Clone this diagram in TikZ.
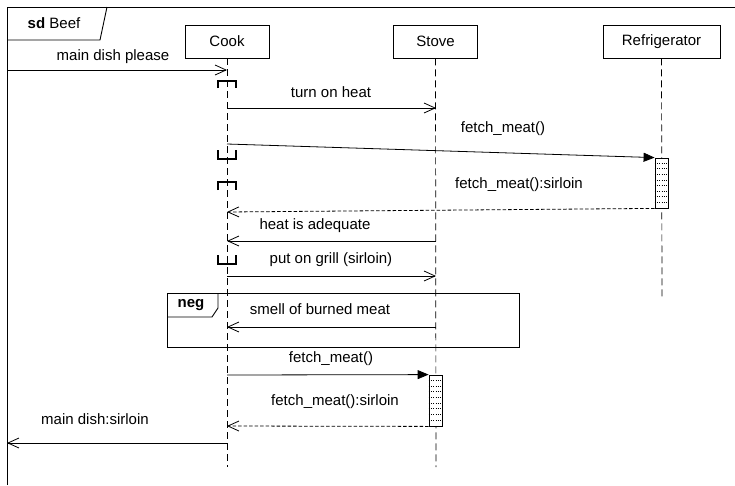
\documentclass[tikz,border=0pt]{standalone}
\usepackage{fontspec}
\setmainfont{Liberation Sans}
\usetikzlibrary{arrows.meta,calc}
\begin{document}
\begin{tikzpicture}[x=1pt,y=-1pt,
  font=\fontsize{15}{18}\selectfont,
  head/.style={draw, line width=0.7pt, minimum height=33pt, inner sep=0pt},
  lifeline/.style={line width=0.7pt, dash pattern=on 7pt off 4pt},
  msg/.style={line width=0.8pt, draw=black, -{Straight Barb[length=11pt,width=10pt,line width=0.8pt]}},
  call/.style={line width=0.8pt, draw=black, -{Triangle[length=11pt,width=9pt]}},
  reply/.style={msg, dash pattern=on 3.5pt off 2pt},
  lbl/.style={inner sep=0pt},
  actbox/.style={draw, line width=0.8pt, minimum width=13pt, inner sep=0pt, fill=white},
  dots/.style={line width=0.7pt, dash pattern=on 1pt off 1.3pt},
  coreg/.style={line width=2pt},
  frame/.style={line width=0.9pt},
]
\useasboundingbox (0,0) rectangle (735,485);

% outer frame
\draw[frame] (7,485) -- (7,7) -- (735,7);
\draw[frame] (7,40) -- (100,40) -- (107,7);
\node[lbl] (title) at (54,23) {\textbf{sd} Beef};

% lifeline heads
\node[head, minimum width=84pt] (cook) at (227,41.5) {Cook};
\node[head, minimum width=84pt] (stove) at (435.5,41.5) {Stove};
\node[head, minimum width=117pt] (fridge) at (661.5,41.5) {Refrigerator};

\coordinate (cookEnd) at (227,467);
\coordinate (stoveEnd) at (436,467);
\coordinate (fridgeEnd) at (662,300);
\draw[lifeline] (cook.south) -- (cookEnd);
\draw[lifeline] (stove.south) -- (stoveEnd);
\draw[lifeline] (fridge.south) -- (fridgeEnd);

% activations
\node[actbox, minimum height=50pt] (fact) at (661.5,183) {};
\foreach \k in {1,...,8} \draw[dots] ($(fact.north west)+(0,\k*5.6)$) -- ($(fact.north east)+(0,\k*5.6)$);
\node[actbox, minimum height=51pt] (sact) at (435.5,400.5) {};
\foreach \k in {1,...,8} \draw[dots] ($(sact.north west)+(0,\k*5.7)$) -- ($(sact.north east)+(0,\k*5.7)$);

% coregion brackets on Cook
\draw[coreg] (218,88) -- (218,81) -- (236,81) -- (236,88);
\draw[coreg] (218,150) -- (218,159) -- (236,159) -- (236,150);
\draw[coreg] (218,190) -- (218,182) -- (236,182) -- (236,190);
\draw[coreg] (218,255) -- (218,264) -- (236,264) -- (236,255);

% messages
\coordinate (gateIn) at (7,70);
\coordinate (cookA) at (227,70);
\draw[msg] (gateIn) -- (cookA);
\node[lbl] (m1) at (113,57) {main dish please};

\coordinate (cookB) at (227,108);
\coordinate (stoveB) at (436,108);
\draw[msg] (cookB) -- (stoveB);
\node[lbl] (m2) at (331,92) {turn on heat};

\coordinate (cookC) at (227,144);
\draw[call] (cookC) -- (fact.north west);
\node[lbl] (m3) at (503,129) {fetch\_meat()};

\coordinate (cookD) at (227,212);
\draw[reply] (fact.south west) -- (cookD);
\node[lbl] (m4) at (519,185) {fetch\_meat():sirloin};

\coordinate (stoveE) at (436,241);
\coordinate (cookE) at (227,241);
\draw[msg] (stoveE) -- (cookE);
\node[lbl] (m5) at (315,226) {heat is adequate};

\coordinate (cookF) at (227,276);
\coordinate (stoveF) at (436,276);
\draw[msg] (cookF) -- (stoveF);
\node[lbl] (m6) at (331,260) {put on grill (sirloin)};

% neg fragment
\draw[frame] (167,293) rectangle (519,347);
\draw[frame] (167,317) -- (212,317) -- (218,308) -- (218,293);
\node[lbl] (neg) at (191,305) {\textbf{neg}};

\coordinate (stoveG) at (436,327);
\coordinate (cookG) at (227,327);
\draw[msg] (stoveG) -- (cookG);
\node[lbl] (m7) at (320,309) {smell of burned meat};

\coordinate (cookH) at (227,375);
\draw[call] (cookH) -- (sact.north west);
\node[lbl] (m8) at (331,359) {fetch\_meat()};

\coordinate (cookI) at (227,426);
\draw[reply] (sact.south west) -- (cookI);
\node[lbl] (m9) at (335,402) {fetch\_meat():sirloin};

\coordinate (cookJ) at (227,443);
\coordinate (gateOut) at (7,443);
\draw[msg] (cookJ) -- (gateOut);
\node[lbl] (m10) at (95,419) {main dish:sirloin};
\end{tikzpicture}
\end{document}
